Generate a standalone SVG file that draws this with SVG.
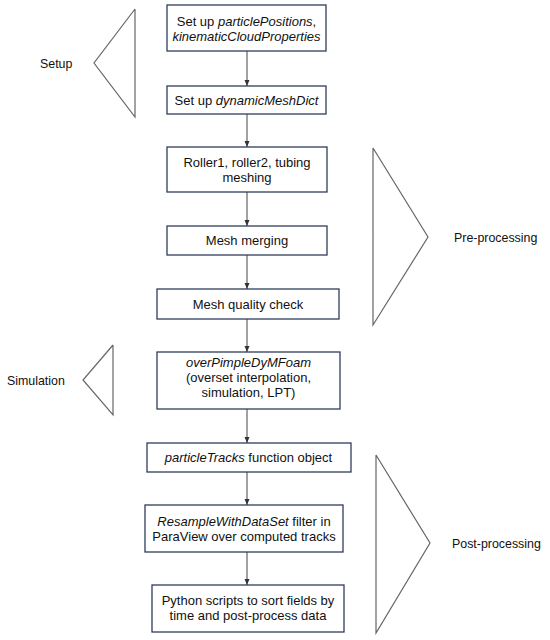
<svg xmlns="http://www.w3.org/2000/svg" width="550" height="640" viewBox="0 0 550 640">
<style>
.box{fill:#fff;stroke:#2e3d5c;stroke-width:1.3}
.t{font-family:"Liberation Sans",Arial,sans-serif;font-size:13px;fill:#111;text-anchor:middle}
.l{font-family:"Liberation Sans",Arial,sans-serif;font-size:12.4px;fill:#111}
.tri{fill:none;stroke:#666;stroke-width:1.2}
.c{stroke:#444;stroke-width:1;fill:none}
</style>
<defs>
<marker id="ah" viewBox="0 0 6 6" refX="6" refY="3" markerWidth="6" markerHeight="6" markerUnits="userSpaceOnUse" orient="auto">
<path d="M0,0.5 L6,3 L0,5.5 z" fill="#333"/>
</marker>
</defs>
<rect width="550" height="640" fill="#fff"/>
<g id="connectors">
<line class="c" x1="247" y1="51" x2="247" y2="86" marker-end="url(#ah)"/>
<line class="c" x1="247" y1="114" x2="247" y2="147" marker-end="url(#ah)"/>
<line class="c" x1="247" y1="192" x2="247" y2="226" marker-end="url(#ah)"/>
<line class="c" x1="247" y1="255" x2="247" y2="289" marker-end="url(#ah)"/>
<line class="c" x1="247" y1="319" x2="247" y2="352" marker-end="url(#ah)"/>
<line class="c" x1="247" y1="409" x2="247" y2="443" marker-end="url(#ah)"/>
<line class="c" x1="247" y1="472" x2="247" y2="505" marker-end="url(#ah)"/>
<line class="c" x1="247" y1="552" x2="247" y2="585" marker-end="url(#ah)"/>
</g>
<g id="n1"><rect class="box" x="167" y="5" width="159" height="46"/>
<text class="t" x="246.5" y="26">Set up <tspan font-style="italic">particlePositions</tspan>,</text>
<text class="t" x="246.5" y="41" font-style="italic">kinematicCloudProperties</text></g>
<g id="n2"><rect class="box" x="167" y="86" width="159" height="28"/>
<text class="t" x="246.5" y="104.5">Set up <tspan font-style="italic">dynamicMeshDict</tspan></text></g>
<g id="n3"><rect class="box" x="167" y="147" width="160" height="45"/>
<text class="t" x="247" y="167">Roller1, roller2, tubing</text>
<text class="t" x="247" y="182">meshing</text></g>
<g id="n4"><rect class="box" x="167" y="226" width="160" height="29"/>
<text class="t" x="247" y="245">Mesh merging</text></g>
<g id="n5"><rect class="box" x="157" y="289" width="182" height="30"/>
<text class="t" x="248" y="308.5">Mesh quality check</text></g>
<g id="n6"><rect class="box" x="157" y="352" width="183" height="57"/>
<text class="t" x="248.5" y="367" font-style="italic">overPimpleDyMFoam</text>
<text class="t" x="248.5" y="382">(overset interpolation,</text>
<text class="t" x="248.5" y="397">simulation, LPT)</text></g>
<g id="n7"><rect class="box" x="147" y="443" width="204" height="29"/>
<text class="t" x="248.5" y="462"><tspan font-style="italic">particleTracks</tspan> function object</text></g>
<g id="n8"><rect class="box" x="145" y="505" width="198" height="47"/>
<text class="t" x="244" y="526"><tspan font-style="italic">ResampleWithDataSet</tspan> filter in</text>
<text class="t" x="244" y="541">ParaView over computed tracks</text></g>
<g id="n9"><rect class="box" x="152" y="585" width="192" height="47"/>
<text class="t" x="248" y="605">Python scripts to sort fields by</text>
<text class="t" x="248" y="620">time and post-process data</text></g>
<g id="setup"><polyline class="tri" points="135,9 94,63 135,117 135,9"/>
<text class="l" x="40" y="67.5">Setup</text></g>
<g id="preproc"><polyline class="tri" points="373,148 428,237 373,325 373,148"/>
<text class="l" x="454" y="241.5">Pre-processing</text></g>
<g id="simulation"><polyline class="tri" points="113,345 83,380 113,415 113,345"/>
<text class="l" x="7" y="384.5">Simulation</text></g>
<g id="postproc"><polyline class="tri" points="376,455 430,543 376,633 376,455"/>
<text class="l" x="452" y="547.5">Post-processing</text></g>
</svg>
